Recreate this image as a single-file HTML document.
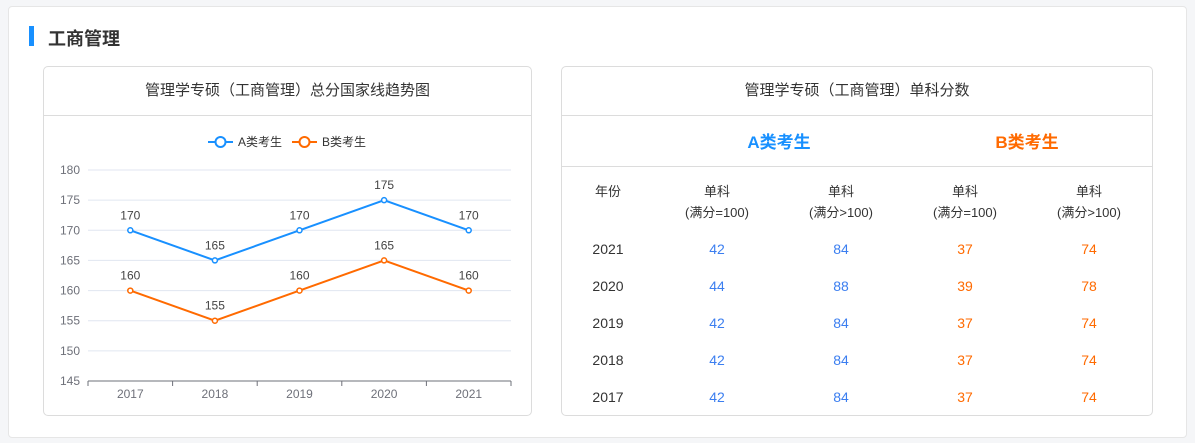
<!DOCTYPE html>
<html><head><meta charset="utf-8"><style>
*{margin:0;padding:0;box-sizing:border-box}
body{width:1195px;height:443px;background:#f5f6f8;font-family:"Liberation Sans","Noto Sans CJK SC",sans-serif;position:relative;overflow:hidden}
.abs{position:absolute}
.card{left:8px;top:6px;width:1179px;height:432px;background:#fff;border:1px solid #e6e6e6;border-radius:4px}
.panel{border:1px solid #dcdcdc;border-radius:5px;background:#fff}
.c{transform:translateX(-50%);white-space:nowrap;text-align:center}
</style></head><body>
<div class="abs card"></div>
<div class="abs" style="left:29px;top:26px;width:5px;height:20px;background:#1890ff"></div>
<div class="abs" style="left:48px;top:25px;font-size:18px;font-weight:bold;color:#333">工商管理</div>

<div class="abs panel" style="left:43px;top:66px;width:489px;height:350px">
<div class="abs" style="left:0;top:0;width:487px;height:49px;border-bottom:1px solid #dcdcdc;text-align:center;line-height:48px;font-size:15px;color:#333">管理学专硕（工商管理）总分国家线趋势图</div>
</div>
<svg class="abs" style="left:0;top:0" width="1195" height="443" id="chart"></svg>

<div class="abs panel" style="left:561px;top:66px;width:592px;height:350px">
<div class="abs" style="left:0;top:0;width:590px;height:49px;border-bottom:1px solid #dcdcdc;text-align:center;line-height:48px;font-size:15px;color:#333">管理学专硕（工商管理）单科分数</div>
<div class="abs" style="left:0;top:49px;width:590px;height:51px;border-bottom:1px solid #dcdcdc"></div>
</div>
<div id="tbl"></div>
<script>
const years=["2017","2018","2019","2020","2021"];
const seriesA=[170,165,170,175,170];
const seriesB=[160,155,160,165,160];
const yTicks=[145,150,155,160,165,170,175,180];
const tableYears=["2021","2020","2019","2018","2017"];
const aSingle100=[42,44,42,42,42];
const aSingleOver=[84,88,84,84,84];
const bSingle100=[37,39,37,37,37];
const bSingleOver=[74,78,74,74,74];

const NS="http://www.w3.org/2000/svg";
const svg=document.getElementById('chart');
const x0=88,x1=511,y0=381,y1=170,ymin=145,ymax=180;
const bw=(x1-x0)/years.length;
const X=i=>x0+bw*(i+0.5);
const Y=v=>y0-(v-ymin)/(ymax-ymin)*(y0-y1);
function mk(t,a,txt){const e=document.createElementNS(NS,t);for(const k in a)e.setAttribute(k,a[k]);if(txt!=null)e.textContent=txt;svg.appendChild(e);return e;}
yTicks.forEach(v=>{
 if(v!==ymin){const g=mk('line',{x1:x0,x2:x1,y1:Y(v),y2:Y(v),stroke:'#e0e6f1'});
 
 }
 const t=mk('text',{x:80,y:Y(v)+4,'text-anchor':'end','font-size':12,fill:'#6e7079','font-family':'Liberation Sans'},v);
 
 
});
const ax=mk('line',{x1:x0,x2:x1,y1:y0,y2:y0,stroke:'#6e7079'});


for(let i=0;i<=years.length;i++){const tk=mk('line',{x1:x0+bw*i,x2:x0+bw*i,y1:y0,y2:y0+5,stroke:'#6e7079'});
 
 }
years.forEach((y,i)=>{const t=mk('text',{x:X(i),y:y0+17,'text-anchor':'middle','font-size':12,fill:'#6e7079','font-family':'Liberation Sans'},y);
 
 });
[[seriesA,'#1890ff','series-a'],[seriesB,'#ff6a00','series-b']].forEach(([d,c,n])=>{
 const p=mk('polyline',{points:d.map((v,i)=>X(i)+','+Y(v)).join(' '),fill:'none',stroke:c,'stroke-width':2});
 
 
 d.forEach((v,i)=>{
  const m=mk('circle',{cx:X(i),cy:Y(v),r:2.5,fill:'#fff',stroke:c,'stroke-width':1.5});
  
  
  const l=mk('text',{x:X(i),y:Y(v)-11,'text-anchor':'middle','font-size':12,fill:'#444','font-family':'Liberation Sans'},v);
  
  
 });
});
// legend
[[208,'#1890ff','A类考生','legend-a'],[292,'#ff6a00','B类考生','legend-b']].forEach(([lx,c,t,n])=>{
 const g=document.createElementNS(NS,'g');svg.appendChild(g);
 
 
 const l=document.createElementNS(NS,'line');l.setAttribute('x1',lx);l.setAttribute('x2',lx+25);l.setAttribute('y1',142);l.setAttribute('y2',142);l.setAttribute('stroke',c);l.setAttribute('stroke-width',2);g.appendChild(l);
 const ci=document.createElementNS(NS,'circle');ci.setAttribute('cx',lx+12.5);ci.setAttribute('cy',142);ci.setAttribute('r',5);ci.setAttribute('fill','#fff');ci.setAttribute('stroke',c);ci.setAttribute('stroke-width',2);g.appendChild(ci);
 const tx=document.createElementNS(NS,'text');tx.setAttribute('x',lx+30);tx.setAttribute('y',146);tx.setAttribute('font-size',12);tx.setAttribute('fill','#333');tx.setAttribute('font-family','Liberation Sans, Noto Sans CJK SC, sans-serif');tx.textContent=t;g.appendChild(tx);
});
// table
const tb=document.getElementById('tbl');
function div(l,t,txt,st,n){const d=document.createElement('div');d.className='abs c';d.style.cssText=`left:${l}px;top:${t}px;${st||''}`;d.innerHTML=txt;tb.appendChild(d);}
div(779,128,'A类考生','font-size:17px;font-weight:bold;color:#1890ff','group-a-header');
div(1027,128,'B类考生','font-size:17px;font-weight:bold;color:#ff6a00','group-b-header');
div(608,181,'年份','font-size:13px;color:#333','col-year-header');
const cx=[717,841,965,1089];
const hd=['单科<br>(满分=100)','单科<br>(满分&gt;100)','单科<br>(满分=100)','单科<br>(满分&gt;100)'];
cx.forEach((x,i)=>div(x,181,hd[i],'font-size:13px;line-height:21px;color:#333','col-header'));
const cols=[aSingle100,aSingleOver,bSingle100,bSingleOver];
const colors=['#3b7ef0','#3b7ef0','#ff6a00','#ff6a00'];
tableYears.forEach((y,r)=>{
 const ty=241+r*37;
 div(608,ty,y,'font-size:14px;color:#333','row-year');
 cols.forEach((c,i)=>div(cx[i],ty,c[r],`font-size:14px;color:${colors[i]}`,'score-cell'));
});
</script>
</body></html>
